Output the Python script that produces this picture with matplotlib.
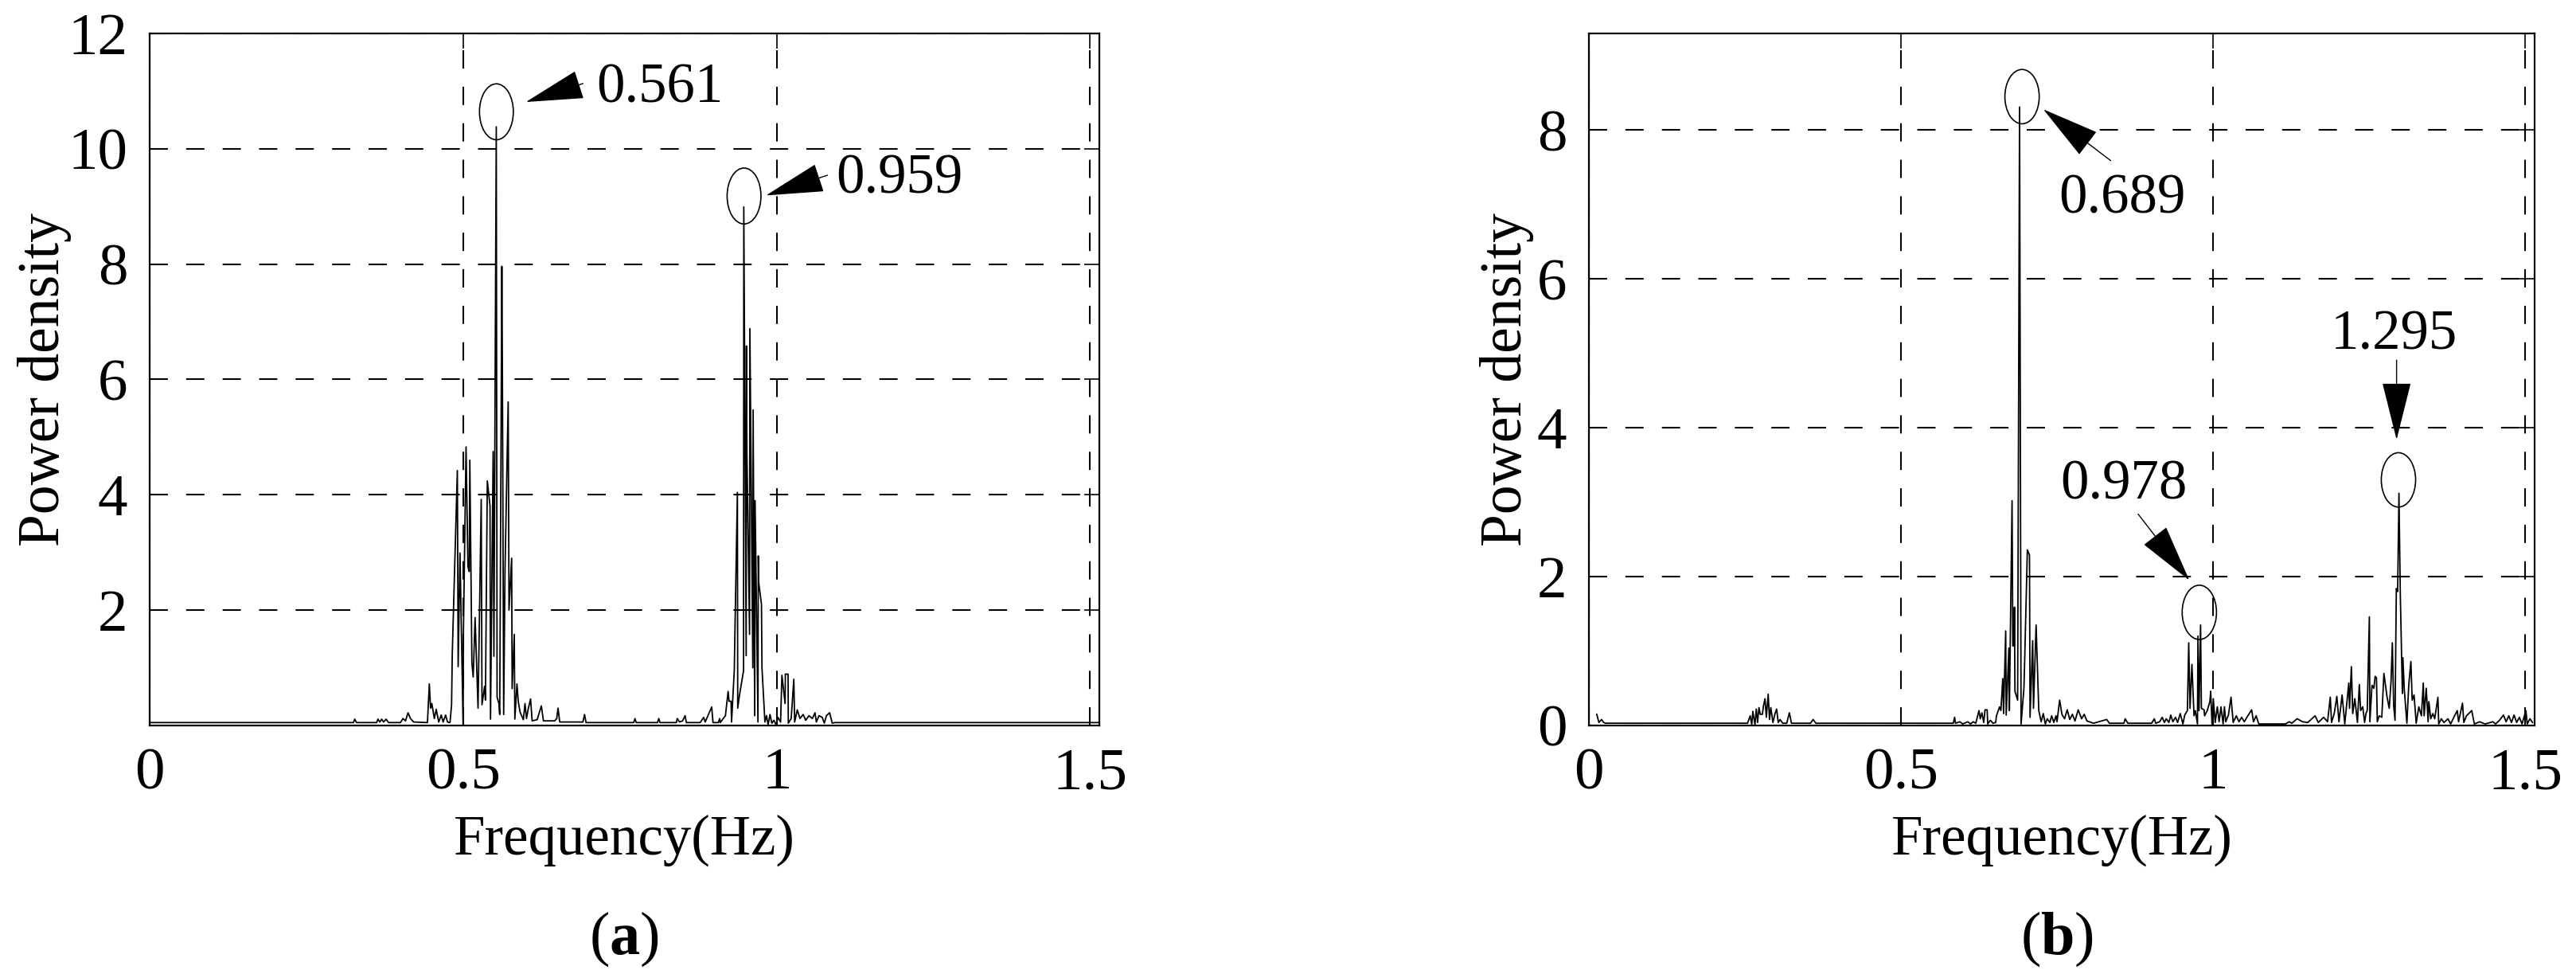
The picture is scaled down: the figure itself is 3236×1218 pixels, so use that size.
import matplotlib
matplotlib.use("Agg")
import matplotlib.pyplot as plt
from matplotlib.patches import Ellipse

plt.rcParams['font.family'] = ['Liberation Serif', 'DejaVu Serif']
plt.rcParams['mathtext.fontset'] = 'custom'
plt.rcParams['mathtext.rm'] = 'Liberation Serif'
plt.rcParams['mathtext.bf'] = 'Liberation Serif:bold'

# ---- panel (a) spectrum ----
freq_a = [0.000, 0.325, 0.327, 0.330, 0.362, 0.364, 0.367, 0.370, 0.373, 0.377,
          0.381, 0.400, 0.404, 0.408, 0.412, 0.416, 0.421, 0.443, 0.446, 0.448,
          0.450, 0.454, 0.457, 0.461, 0.465, 0.468, 0.472, 0.475, 0.479, 0.4815,
          0.4826, 0.4907, 0.4920, 0.4949, 0.4999, 0.5004, 0.5046, 0.5076, 0.5097, 0.5106,
          0.5139, 0.5160, 0.5190, 0.5237, 0.5288, 0.5300, 0.5342, 0.5355, 0.5385, 0.5428,
          0.5436, 0.5478, 0.5490, 0.5528, 0.5541, 0.5570, 0.5583, 0.5617, 0.5625, 0.5646,
          0.5667, 0.5718, 0.5731, 0.5773, 0.5781, 0.5815, 0.5824, 0.5858, 0.5879, 0.5908,
          0.5960, 0.5986, 0.6010, 0.6040, 0.6075, 0.6100, 0.6180, 0.6247, 0.6280, 0.6460,
          0.6492, 0.6513, 0.6540, 0.6910, 0.6936, 0.6960, 0.772, 0.774, 0.776, 0.810,
          0.812, 0.814, 0.840, 0.8415, 0.845, 0.850, 0.854, 0.856, 0.878, 0.8837,
          0.886, 0.8943, 0.8964, 0.8985, 0.9070, 0.9091, 0.9100, 0.9183, 0.9226, 0.9240,
          0.9273, 0.9281, 0.9324, 0.9374, 0.9379, 0.9408, 0.9472, 0.9476, 0.9514, 0.9518,
          0.9526, 0.9568, 0.9573, 0.9620, 0.9625, 0.9650, 0.9656, 0.9702, 0.9707, 0.9715,
          0.9758, 0.9766, 0.9813, 0.9838, 0.9864, 0.9894, 0.9923, 0.9957, 0.9991, 1.0021,
          1.0063, 1.0084, 1.0135, 1.0139, 1.0182, 1.0186, 1.0232, 1.0274, 1.0287, 1.0329,
          1.0372, 1.0423, 1.0464, 1.0515, 1.0569, 1.0612, 1.0633, 1.0676, 1.0727, 1.0760,
          1.0794, 1.0845, 1.0887, 1.0929, 1.515]
power_a = [0.05, 0.05, 0.11, 0.05, 0.05, 0.11, 0.06, 0.11, 0.06, 0.11,
           0.05, 0.05, 0.12, 0.08, 0.22, 0.12, 0.06, 0.05, 0.72, 0.30,
           0.38, 0.12, 0.28, 0.06, 0.18, 0.06, 0.18, 0.06, 0.05, 0.36,
           1.24, 4.42, 1.02, 2.99, 0.00, 1.62, 4.83, 2.75, 2.67, 4.60,
           1.09, 0.84, 1.87, 0.30, 3.92, 0.36, 0.68, 0.44, 4.24, 3.81,
           0.11, 4.75, 1.20, 10.38, 0.49, 0.38, 0.19, 7.96, 6.30, 0.19,
           2.68, 5.61, 2.00, 2.90, 0.64, 1.58, 0.11, 0.72, 0.41, 0.23,
           0.10, 0.38, 0.12, 0.30, 0.46, 0.08, 0.10, 0.34, 0.08, 0.08,
           0.12, 0.30, 0.06, 0.06, 0.19, 0.05, 0.05, 0.12, 0.05, 0.05,
           0.12, 0.05, 0.05, 0.12, 0.06, 0.08, 0.17, 0.05, 0.05, 0.14,
           0.06, 0.27, 0.32, 0.05, 0.05, 0.12, 0.05, 0.17, 0.59, 0.42,
           0.42, 0.06, 0.95, 4.04, 0.30, 0.53, 0.95, 8.99, 1.21, 6.58,
           4.72, 1.58, 6.88, 1.00, 5.47, 0.17, 3.90, 0.06, 2.94, 2.47,
           2.10, 1.00, 0.06, 0.17, 0.01, 0.19, 0.04, 0.09, 0.01, 0.14,
           0.06, 0.87, 0.38, 0.89, 0.89, 0.04, 0.12, 0.80, 0.06, 0.27,
           0.12, 0.19, 0.09, 0.17, 0.12, 0.22, 0.06, 0.17, 0.14, 0.04,
           0.17, 0.22, 0.04, 0.05, 0.05]

# ---- panel (b) spectrum ----
freq_b = [0.0127, 0.0161, 0.0203, 0.0237, 0.0267, 0.2542, 0.2585, 0.2610, 0.2627, 0.2661,
          0.2682, 0.2703, 0.2725, 0.2746, 0.2780, 0.2797, 0.2822, 0.2843, 0.2873, 0.2894,
          0.2915, 0.2949, 0.2979, 0.3008, 0.3034, 0.3063, 0.3106, 0.3170, 0.3212, 0.3246,
          0.3551, 0.3593, 0.3636, 0.5838, 0.5860, 0.5873, 0.5945, 0.5987, 0.6072, 0.6114,
          0.6157, 0.6199, 0.6250, 0.6271, 0.6297, 0.6326, 0.6347, 0.6381, 0.6390, 0.6432,
          0.6474, 0.6517, 0.6530, 0.6580, 0.6601, 0.6631, 0.6644, 0.6678, 0.6686, 0.6729,
          0.6737, 0.6780, 0.6792, 0.6814, 0.6818, 0.6826, 0.6869, 0.6900, 0.6924, 0.6970,
          0.6983, 0.7025, 0.7059, 0.7068, 0.7110, 0.7123, 0.7165, 0.7208, 0.7246, 0.7280,
          0.7313, 0.7343, 0.7385, 0.7415, 0.7449, 0.7483, 0.7500, 0.7542, 0.7579, 0.7621,
          0.7663, 0.7705, 0.7746, 0.7788, 0.7839, 0.7894, 0.7936, 0.7979, 0.8085, 0.8296,
          0.8339, 0.8572, 0.8592, 0.8635, 0.9016, 0.9059, 0.9080, 0.9144, 0.9186, 0.9220,
          0.9250, 0.9292, 0.9322, 0.9356, 0.9398, 0.9432, 0.9474, 0.9517, 0.9546, 0.9589,
          0.9610, 0.9631, 0.9661, 0.9695, 0.9716, 0.9750, 0.9758, 0.9775, 0.9800, 0.9813,
          0.9856, 0.9864, 0.9907, 0.9949, 0.9962, 0.9983, 1.0004, 1.0034, 1.0068, 1.0097,
          1.0127, 1.0161, 1.0182, 1.0203, 1.0246, 1.0288, 1.0322, 1.0373, 1.0415, 1.0458,
          1.0500, 1.0542, 1.0618, 1.0648, 1.0690, 1.0733, 1.0818, 1.1158, 1.1220, 1.1262,
          1.1347, 1.1432, 1.1517, 1.1635, 1.1686, 1.1771, 1.1834, 1.1878, 1.1898, 1.1941,
          1.1983, 1.2017, 1.2067, 1.2110, 1.2174, 1.2186, 1.2216, 1.2237, 1.2271, 1.2313,
          1.2343, 1.2364, 1.2398, 1.2428, 1.2449, 1.2470, 1.2504, 1.2512, 1.2546, 1.2576,
          1.2597, 1.2618, 1.2631, 1.2661, 1.2703, 1.2737, 1.2788, 1.2822, 1.2851, 1.2872,
          1.2893, 1.2915, 1.2936, 1.2957, 1.2978, 1.2999, 1.3033, 1.3041, 1.3062, 1.3105,
          1.3135, 1.3169, 1.3190, 1.3220, 1.3254, 1.3296, 1.3338, 1.3368, 1.3381, 1.3415,
          1.3445, 1.3457, 1.3487, 1.3521, 1.3551, 1.3602, 1.3615, 1.3657, 1.3699, 1.3763,
          1.3806, 1.3869, 1.3912, 1.3933, 1.3996, 1.4017, 1.4060, 1.4144, 1.4186, 1.4271,
          1.4356, 1.4483, 1.4525, 1.4589, 1.4652, 1.4695, 1.4737, 1.4780, 1.4822, 1.4864,
          1.4907, 1.4949, 1.5012, 1.5033, 1.5076, 1.5118]
power_b = [0.15, 0.04, 0.08, 0.04, 0.03, 0.03, 0.13, 0.01, 0.19, 0.01,
           0.22, 0.04, 0.24, 0.15, 0.15, 0.26, 0.36, 0.11, 0.42, 0.08,
           0.24, 0.04, 0.15, 0.22, 0.04, 0.08, 0.03, 0.03, 0.17, 0.03,
           0.03, 0.08, 0.03, 0.03, 0.11, 0.03, 0.05, 0.02, 0.05, 0.02,
           0.05, 0.03, 0.20, 0.09, 0.17, 0.04, 0.21, 0.21, 0.02, 0.07,
           0.03, 0.04, 0.13, 0.25, 0.20, 0.63, 0.16, 1.27, 0.14, 1.04,
           0.20, 3.02, 1.07, 1.07, 1.59, 0.46, 0.34, 8.31, 0.02, 0.50,
           0.91, 2.36, 2.29, 0.11, 1.14, 0.23, 1.35, 0.20, 0.05, 0.16,
           0.02, 0.09, 0.04, 0.13, 0.04, 0.13, 0.05, 0.34, 0.15, 0.09,
           0.21, 0.08, 0.15, 0.06, 0.21, 0.09, 0.15, 0.06, 0.03, 0.08,
           0.03, 0.03, 0.09, 0.03, 0.03, 0.09, 0.03, 0.05, 0.11, 0.04,
           0.09, 0.04, 0.14, 0.05, 0.11, 0.04, 0.16, 0.02, 0.14, 0.20,
           1.11, 0.23, 0.82, 0.13, 0.20, 0.02, 1.20, 0.20, 1.35, 0.23,
           0.21, 0.13, 0.20, 0.32, 0.46, 0.02, 0.36, 0.04, 0.25, 0.05,
           0.25, 0.02, 0.25, 0.05, 0.14, 0.38, 0.04, 0.13, 0.05, 0.11,
           0.05, 0.11, 0.21, 0.05, 0.13, 0.02, 0.02, 0.02, 0.05, 0.03,
           0.09, 0.05, 0.04, 0.13, 0.04, 0.11, 0.05, 0.38, 0.04, 0.16,
           0.39, 0.05, 0.41, 0.02, 0.57, 0.23, 0.79, 0.16, 0.36, 0.04,
           0.55, 0.20, 0.25, 0.04, 0.16, 0.20, 1.46, 0.05, 0.54, 0.50,
           0.66, 0.64, 0.05, 0.13, 0.11, 0.70, 0.38, 0.23, 0.59, 1.11,
           0.27, 0.07, 1.84, 1.80, 3.12, 1.79, 0.43, 0.91, 0.50, 0.03,
           0.54, 0.86, 0.34, 0.41, 0.03, 0.25, 0.13, 0.57, 0.13, 0.50,
           0.05, 0.32, 0.09, 0.16, 0.09, 0.38, 0.02, 0.09, 0.04, 0.09,
           0.02, 0.13, 0.20, 0.05, 0.30, 0.04, 0.13, 0.20, 0.02, 0.05,
           0.02, 0.05, 0.02, 0.07, 0.14, 0.05, 0.13, 0.04, 0.14, 0.04,
           0.11, 0.02, 0.20, 0.02, 0.09, 0.04]

# annotations: label, ellipse centre, arrow head, arrow tail, text position
marks_a = [("0.561", (0.553, 10.64), (0.600, 10.81), (0.691, 11.13), (0.712, 11.05)),
           ("0.959", (0.948, 9.18), (0.983, 9.19), (1.081, 9.54), (1.095, 9.47))]
marks_b = [("0.689", (0.694, 8.45), (0.728, 8.28), (0.836, 7.59), (0.855, 7.07)),
           ("0.978", (0.978, 1.52), (0.962, 1.95), (0.880, 2.84), (0.857, 3.23)),
           ("1.295", (1.297, 3.30), (1.294, 3.84), (1.294, 4.91), (1.290, 5.24))]

fig = plt.figure(figsize=(32.37, 12.18), dpi=100)
ax_a = fig.add_axes([0.0581, 0.2521, 0.3686, 0.7135])
ax_b = fig.add_axes([0.6166, 0.2521, 0.3670, 0.7135])

dash = (0, (11, 11))


def style_axes(ax, yticks, ytop, ylab_x):
    ax.set_xlim(0, 1.515)
    ax.set_ylim(0, ytop)
    ax.set_xticks([0, 0.5, 1, 1.5])
    ax.set_xticklabels(["0", "0.5", "1", "1.5"])
    ax.set_yticks(yticks)
    ax.set_yticklabels([str(v) for v in yticks])
    ax.tick_params(direction='in', length=14, width=1.2, labelsize=54,
                   top=True, right=True, pad=20)
    ax.grid(True, color='black', linestyle=dash, linewidth=1.5)
    for s in ax.spines.values():
        s.set_linewidth(1.6)
    ax.set_xlabel("Frequency(Hz)", fontsize=51)
    ax.set_ylabel("Power density", fontsize=53)
    ax.xaxis.set_label_coords(0.5, -0.128)
    ax.yaxis.set_label_coords(ylab_x, 0.5)


def add_marks(ax, marks, ew, eh):
    for label, centre, head, tail, tpos in marks:
        ax.add_patch(Ellipse(centre, ew, eh, fill=False, edgecolor='black', lw=1.2))
        ax.annotate("", xy=head, xytext=tail,
                    arrowprops=dict(arrowstyle='-|>,head_length=2.4,head_width=0.6',
                                    mutation_scale=20, color='black', lw=1.0,
                                    shrinkA=0, shrinkB=0))
        ha = 'left' if ax is ax_a else 'center'
        ax.text(tpos[0], tpos[1], label, fontsize=51, ha=ha, va='center')


ax_a.plot(freq_a, power_a, color='black', lw=1.3)
style_axes(ax_a, [2, 4, 6, 8, 10, 12], 12, -0.082)
add_marks(ax_a, marks_a, 0.054, 0.97)

ax_b.plot(freq_b, power_b, color='black', lw=1.3)
style_axes(ax_b, [0, 2, 4, 6, 8], 9.3, -0.058)
add_marks(ax_b, marks_b, 0.055, 0.73)

fig.text(0.2422, 0.032, r"($\mathbf{a}$)", fontsize=55, ha='center', va='center')
fig.text(0.7983, 0.032, r"($\mathbf{b}$)", fontsize=55, ha='center', va='center')

fig.savefig("out.png", dpi=100)
